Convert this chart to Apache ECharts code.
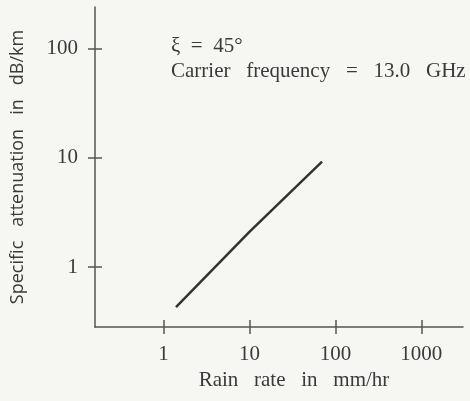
<!DOCTYPE html>
<html>
<head>
<meta charset="utf-8">
<script src="https://cdn.jsdelivr.net/npm/echarts@6/dist/echarts.min.js"></script>
<style>
  html, body { margin: 0; padding: 0; background: #f6f6f3; }
  #chart { width: 470px; height: 401px; }
</style>
</head>
<body>
<div id="chart"></div>
<script>
// rain rate (mm/hr) vs specific attenuation (dB/km)
const rainRate = [1.4, 10, 70];
const attenuation = [0.43, 2.1, 9.2];
const xTicks = [1, 10, 100, 1000];
const yTicks = [1, 10, 100];

const ink = '#3a3a3a';
const serif = 'Liberation Serif';
const tickStyle = { color: '#555', width: 1.5 };

const chart = echarts.init(document.getElementById('chart'));

const xBase = {
    type: 'log',
    logBase: 10,
    min: 0.16,
    max: 3050,
    position: 'bottom',
    splitLine: { show: false }
};
const yBase = {
    type: 'log',
    logBase: 10,
    min: 0.283,
    max: 239,
    position: 'left',
    splitLine: { show: false }
};

chart.setOption({
    backgroundColor: '#f6f6f3',
    animation: false,
    grid: { left: 95, right: 7, top: 7, bottom: 74, outerBoundsMode: 'none' },
    xAxis: [
        Object.assign({}, xBase, {
            name: 'Rain   rate   in   mm/hr',
            nameLocation: 'middle',
            nameGap: 39,
            nameTextStyle: { fontFamily: serif, fontSize: 21, color: ink, padding: [0, 0, 0, 30] },
            axisLine: { show: true, lineStyle: tickStyle },
            axisTick: { show: false },
            axisLabel: {
                customValues: xTicks, fontFamily: serif, fontSize: 21, color: ink, margin: 17,
                formatter: v => String(v)
            }
        }),
        Object.assign({}, xBase, {
            offset: -7,
            axisLine: { show: false },
            axisTick: { show: true, customValues: xTicks, length: 14, lineStyle: tickStyle },
            axisLabel: { show: false }
        })
    ],
    yAxis: [
        Object.assign({}, yBase, {
            name: 'Specific   attenuation   in   dB/km',
            nameLocation: 'middle',
            nameGap: 68,
            nameTextStyle: { fontFamily: 'Open Sans', fontSize: 18, color: ink },
            axisLine: { show: true, lineStyle: tickStyle },
            axisTick: { show: false },
            axisLabel: {
                customValues: yTicks, fontFamily: serif, fontSize: 21, color: ink, margin: 17,
                formatter: v => String(v)
            }
        }),
        Object.assign({}, yBase, {
            offset: -7,
            axisLine: { show: false },
            axisTick: { show: true, customValues: yTicks, length: 14, lineStyle: tickStyle },
            axisLabel: { show: false }
        })
    ],
    graphic: [
        {
            type: 'text', left: 171, top: 36,
            style: { text: 'ξ  =  45°', font: '21px "Liberation Serif"', fill: ink }
        },
        {
            type: 'text', left: 171, top: 61,
            style: { text: 'Carrier   frequency   =   13.0   GHz', font: '21px "Liberation Serif"', fill: ink }
        }
    ],
    series: [
        {
            type: 'line',
            xAxisIndex: 0,
            yAxisIndex: 0,
            data: rainRate.map((r, i) => [r, attenuation[i]]),
            showSymbol: false,
            lineStyle: { color: '#333', width: 2.5 }
        }
    ]
});
</script>
</body>
</html>
